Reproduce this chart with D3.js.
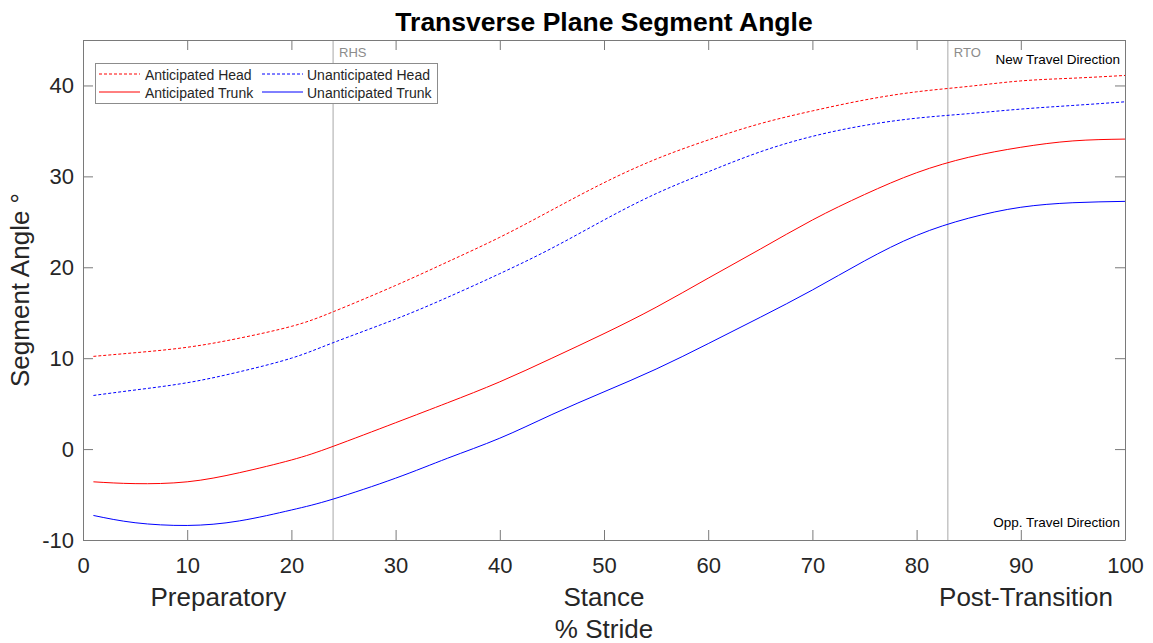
<!DOCTYPE html>
<html>
<head>
<meta charset="utf-8">
<script src="https://cdn.jsdelivr.net/npm/d3@7"></script>
<style>
  html, body { margin: 0; padding: 0; background: #fff; }
  svg { display: block; font-family: "Liberation Sans", Arial, sans-serif; }
</style>
</head>
<body>
<svg id="chart" width="1153" height="643"></svg>
<script>
// % of stride at which each curve is sampled
const stride = [1, 5, 10, 15, 20, 24, 30, 35, 40, 45, 50, 55, 60, 65, 70, 75, 80, 85, 90, 95, 100];

// Segment angles (degrees)
const anticipatedHead   = [10.2, 10.6, 11.2, 12.2, 13.5, 15.1, 18.0, 20.6, 23.3, 26.3, 29.3, 31.9, 34.0, 35.8, 37.2, 38.4, 39.3, 39.9, 40.5, 40.8, 41.1];
const unanticipatedHead = [5.9, 6.5, 7.3, 8.5, 10.0, 11.7, 14.3, 16.7, 19.3, 22.1, 25.2, 28.1, 30.5, 32.7, 34.4, 35.6, 36.4, 36.9, 37.4, 37.8, 38.2];
const anticipatedTrunk  = [-3.6, -3.8, -3.6, -2.6, -1.2, 0.3, 2.9, 5.1, 7.4, 10.0, 12.7, 15.6, 18.8, 22.0, 25.2, 28.0, 30.4, 32.1, 33.2, 33.9, 34.1];
const unanticipatedTrunk= [-7.3, -8.1, -8.4, -7.9, -6.7, -5.5, -3.2, -1.0, 1.2, 3.8, 6.3, 8.8, 11.6, 14.5, 17.5, 20.7, 23.5, 25.4, 26.6, 27.1, 27.25];

const seriesNames = ["Anticipated Head", "Unanticipated Head", "Anticipated Trunk", "Unanticipated Trunk"];

// Gait events and phase labels
const eventNames = ["RHS", "RTO"];
const eventStride = [24, 83];
const phaseNames = ["Preparatory", "Stance", "Post-Transition"];
const phaseStride = [13, 50, 90.5];

const xTicks = [0, 10, 20, 30, 40, 50, 60, 70, 80, 90, 100];
const yTicks = [-10, 0, 10, 20, 30, 40];

const series = [
  { name: seriesNames[0], values: anticipatedHead,    color: "#ff0000", dash: "3,2" },
  { name: seriesNames[1], values: unanticipatedHead,  color: "#0000ff", dash: "3,2" },
  { name: seriesNames[2], values: anticipatedTrunk,   color: "#ff0000", dash: null },
  { name: seriesNames[3], values: unanticipatedTrunk, color: "#0000ff", dash: null }
];

const svg = d3.select("#chart");
const plotL = 83, plotR = 1125, plotT = 40, plotB = 540;

const x = d3.scaleLinear().domain([0, 100]).range([plotL, plotR]);
const y = d3.scaleLinear().domain([-10, 45]).range([plotB, plotT]);

const axisColor = "#7a7a7a";
const textColor = "#262626";
const plainNumber = d => String(d);

// Event marker lines
svg.append("g").selectAll("line").data(eventStride).join("line")
  .attr("x1", d => x(d)).attr("x2", d => x(d))
  .attr("y1", plotT).attr("y2", plotB)
  .attr("stroke", "#a8a8a8").attr("stroke-width", 1);

svg.append("g").selectAll("text").data(eventNames).join("text")
  .attr("x", (d, i) => x(eventStride[i]) + 6)
  .attr("y", 57)
  .attr("font-size", 13)
  .attr("fill", "#8c8c8c")
  .text(d => d);

// Curves
const line = d3.line()
  .x((d, i) => x(stride[i]))
  .y(d => y(d))
  .curve(d3.curveNatural);

svg.append("g").selectAll("path").data(series).join("path")
  .attr("d", d => line(d.values))
  .attr("fill", "none")
  .attr("stroke", d => d.color)
  .attr("stroke-width", 1)
  .attr("stroke-dasharray", d => d.dash);

// Axes (ticks pointing inward on all four sides)
function styleAxis(g) {
  g.select(".domain").attr("stroke", axisColor).attr("stroke-width", 1);
  g.selectAll(".tick line").attr("stroke", axisColor);
  g.selectAll(".tick text").attr("fill", textColor)
    .attr("font-family", "'Liberation Sans', Arial, sans-serif").attr("font-size", 22);
}

svg.append("g").attr("transform", `translate(0,${plotB})`)
  .call(d3.axisBottom(x).tickValues(xTicks).tickFormat(plainNumber).tickSizeInner(-10).tickSizeOuter(0).tickPadding(17))
  .call(styleAxis);
svg.append("g").attr("transform", `translate(0,${plotT})`)
  .call(d3.axisTop(x).tickValues(xTicks).tickSizeInner(-10).tickSizeOuter(0).tickFormat(""))
  .call(styleAxis);
svg.append("g").attr("transform", `translate(${plotL},0)`)
  .call(d3.axisLeft(y).tickValues(yTicks).tickFormat(plainNumber).tickSizeInner(-10).tickSizeOuter(0).tickPadding(9))
  .call(styleAxis);
svg.append("g").attr("transform", `translate(${plotR},0)`)
  .call(d3.axisRight(y).tickValues(yTicks).tickSizeInner(-10).tickSizeOuter(0).tickFormat(""))
  .call(styleAxis);

// Direction notes
svg.append("text").attr("x", 1120).attr("y", 64).attr("text-anchor", "end")
  .attr("font-size", 13.5).attr("fill", "#000").text("New Travel Direction");
svg.append("text").attr("x", 1120).attr("y", 527).attr("text-anchor", "end")
  .attr("font-size", 13.5).attr("fill", "#000").text("Opp. Travel Direction");

// Phase labels and axis titles
svg.append("g").selectAll("text").data(phaseNames).join("text")
  .attr("x", (d, i) => x(phaseStride[i]))
  .attr("y", 606)
  .attr("text-anchor", "middle")
  .attr("font-size", 26)
  .attr("fill", textColor)
  .text(d => d);

svg.append("text").attr("x", x(50)).attr("y", 638).attr("text-anchor", "middle")
  .attr("font-size", 26).attr("fill", textColor).text("% Stride");

svg.append("text")
  .attr("transform", `translate(29,290) rotate(-90)`)
  .attr("text-anchor", "middle")
  .attr("font-size", 26).attr("fill", textColor)
  .text("Segment Angle °");

svg.append("text").attr("x", x(50)).attr("y", 31).attr("text-anchor", "middle")
  .attr("font-size", 26.5).attr("font-weight", "bold").attr("fill", "#000")
  .text("Transverse Plane Segment Angle");

// Legend
const legend = svg.append("g");
legend.append("rect").attr("x", 95.5).attr("y", 63.5).attr("width", 342).attr("height", 40)
  .attr("fill", "#fff").attr("stroke", "#8c8c8c").attr("stroke-width", 1);

const legendPos = [
  { lx: 99, tx: 145, ly: 74, ty: 80 },
  { lx: 262, tx: 307, ly: 74, ty: 80 },
  { lx: 99, tx: 145, ly: 92, ty: 98 },
  { lx: 262, tx: 307, ly: 92, ty: 98 }
];

const items = legend.selectAll("g.item").data(series).join("g").attr("class", "item");
items.append("line")
  .attr("x1", (d, i) => legendPos[i].lx).attr("x2", (d, i) => legendPos[i].lx + 41)
  .attr("y1", (d, i) => legendPos[i].ly).attr("y2", (d, i) => legendPos[i].ly)
  .attr("stroke", d => d.color).attr("stroke-width", 1)
  .attr("stroke-dasharray", d => d.dash);
items.append("text")
  .attr("x", (d, i) => legendPos[i].tx).attr("y", (d, i) => legendPos[i].ty)
  .attr("font-size", 14).attr("fill", textColor)
  .text(d => d.name);
</script>
</body>
</html>
